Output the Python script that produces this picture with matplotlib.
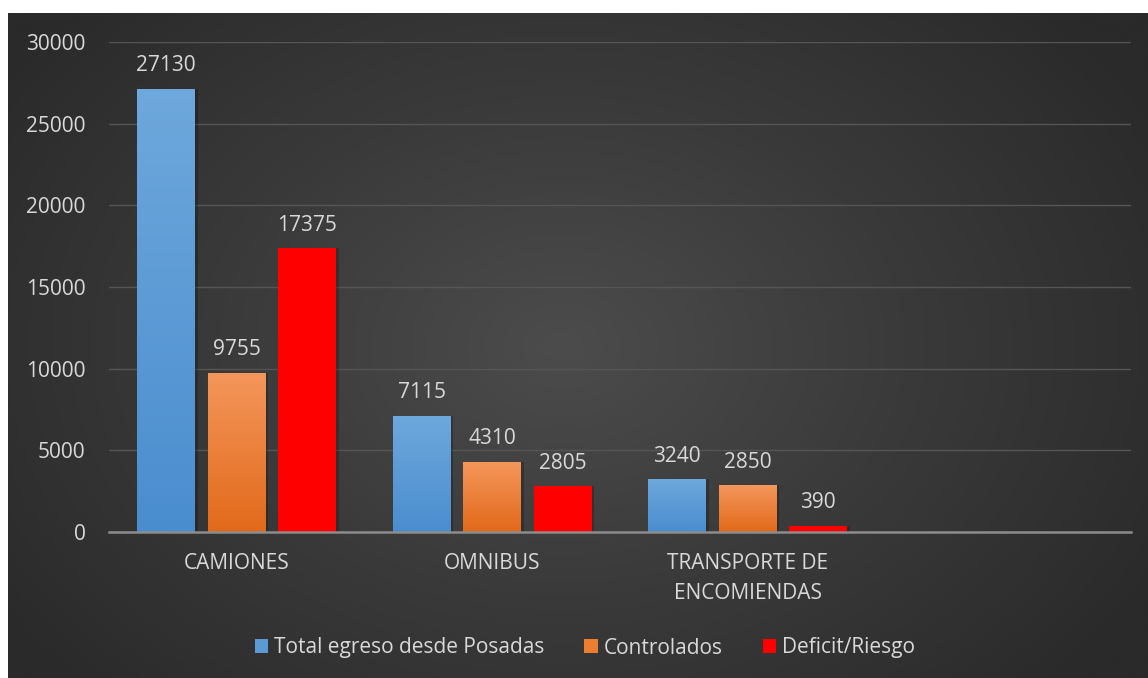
import numpy as np
import matplotlib
matplotlib.use('Agg')
import matplotlib.pyplot as plt
from matplotlib.colors import LinearSegmentedColormap
from matplotlib.patches import Patch

categories = ['CAMIONES', 'OMNIBUS', 'TRANSPORTE DE\nENCOMIENDAS', '']
series_names = ['Total egreso desde Posadas', 'Controlados', 'Deficit/Riesgo']
total_egreso = [27130, 7115, 3240]
controlados = [9755, 4310, 2850]
deficit = [17375, 2805, 390]
yticks = [0, 5000, 10000, 15000, 20000, 25000, 30000]

plt.rcParams['font.family'] = ['Open Sans', 'DejaVu Sans']
TXT = '#d9d9d9'
FS = 15

W, H = 1148, 678
fig = plt.figure(figsize=(W/100, H/100), dpi=100, facecolor='white')

# background radial gradient
bg = fig.add_axes([8/W, 0, (W-8)/W, (H-13)/H], zorder=0)
yy, xx = np.mgrid[0:400, 0:700]
cx, cy = 340, 200
r = np.sqrt(((xx-cx)/420.0)**2 + ((yy-cy)/300.0)**2)
r = np.clip(r, 0, 1)
bgcmap = LinearSegmentedColormap.from_list('bg', ['#4c4c4c', '#3a3a3a', '#2a2a2a'])
bg.imshow(r, cmap=bgcmap, aspect='auto', vmin=0, vmax=1, interpolation='bilinear')
bg.axis('off')

ax = fig.add_axes([109/W, (H-532)/H, (1131-109)/W, (532-42)/H], zorder=1)
ax.set_facecolor('none')

x = np.arange(len(total_egreso))
bw = 0.227
step = 0.276
grads = [
    LinearSegmentedColormap.from_list('b', ['#4a8dcf', '#6ea8dc']),
    LinearSegmentedColormap.from_list('o', ['#e2691a', '#f4975c']),
    LinearSegmentedColormap.from_list('r', ['#ff0000', '#ff0000']),
]
mids = ['#5b9bd5', '#ed7d31', '#ff0000']
grad = np.linspace(0, 1, 256).reshape(-1, 1)
for i, vals in enumerate([total_egreso, controlados, deficit]):
    pos = x + (i-1)*step
    # shadow
    ax.bar(pos + 0.010, vals, bw, bottom=0, color='black', alpha=0.22, zorder=2)
    bars = ax.bar(pos, vals, bw, color=mids[i], zorder=3)
    for b in bars:
        bx, bwid, bh = b.get_x(), b.get_width(), b.get_height()
        im = ax.imshow(grad, cmap=grads[i], extent=[bx, bx+bwid, 0, bh],
                       aspect='auto', origin='lower', zorder=4)
        im.set_clip_path(b)
    for p, v in zip(pos, vals):
        ax.annotate(f'{v}', (p, v), xytext=(0, 9), textcoords='offset points',
                    ha='center', va='bottom', color=TXT, fontsize=FS, zorder=5)

ax.set_xlim(-0.5, 3.5)
ax.set_ylim(0, 30000)
ax.set_yticks(yticks)
ax.set_yticklabels([str(t) for t in yticks])
ax.set_xticks(np.arange(len(categories)))
ax.set_xticklabels(categories, linespacing=1.55)
ax.tick_params(axis='both', length=0, colors=TXT, labelsize=FS)
ax.tick_params(axis='y', pad=17)
ax.tick_params(axis='x', pad=15)
for lab in ax.get_yticklabels():
    lab.set_ha('right')
ax.grid(axis='y', color='#555555', linewidth=1, zorder=1)
ax.set_axisbelow(True)
for s in ['top', 'right', 'left']:
    ax.spines[s].set_visible(False)
ax.spines['bottom'].set_color('#8c8c8c')
ax.spines['bottom'].set_linewidth(1.8)
ax.spines['bottom'].set_zorder(6)

handles = [Patch(facecolor=c, edgecolor='none') for c in mids]
leg = fig.legend(handles, series_names, loc='center', bbox_to_anchor=(585/W, (H-648)/H),
                 ncol=3, frameon=False, fontsize=FS, handlelength=0.65, handleheight=0.65,
                 handletextpad=0.3, columnspacing=1.9)
for t in leg.get_texts():
    t.set_color(TXT)

fig.savefig('out.png', dpi=100, facecolor='white')
